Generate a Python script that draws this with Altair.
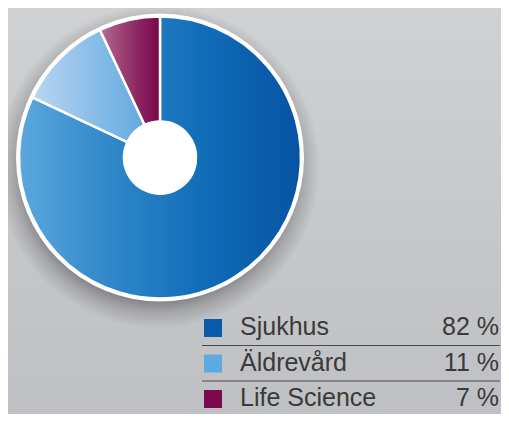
import altair as alt
import pandas as pd

categories = ["Sjukhus", "Äldrevård", "Life Science"]
shares = [82, 11, 7]
share_labels = ["82 %", "11 %", "7 %"]
swatch_colors = ["#0a5bab", "#5cabe0", "#7a0a4c"]
slice_gradients = [
    ["#5ba8de", "#2f86c8", "#106cb8", "#0753a3"],
    ["#b9d6f1", "#9cc6ec", "#7fb8e6", "#62a9de"],
    ["#b26d95", "#9e4577", "#8a2360", "#78064a"],
]

W, H = 493, 406
CX, CY = 152, 149.5
R_OUT, R_IN = 141, 36

df = pd.DataFrame({
    "category": categories,
    "share": shares,
    "label": share_labels,
    "order": list(range(len(categories))),
})
one = pd.DataFrame({"k": [0]})


def lin(colors, vertical=False):
    n = len(colors) - 1
    g = {"gradient": "linear", "x1": 0, "y1": 0,
         "x2": 0 if vertical else 1, "y2": 1 if vertical else 0,
         "stops": [{"offset": i / n, "color": c} for i, c in enumerate(colors)]}
    return g


bg = alt.Chart(one).mark_rect(color=lin(["#d0d1d3", "#c7c8ca", "#bfc0c3"], vertical=True)).encode(
    x=alt.value(0), x2=alt.value(W), y=alt.value(0), y2=alt.value(H)
)

shadow = alt.Chart(one).mark_arc(
    theta=0, theta2=6.2831853, radius=162,
    color={"gradient": "radial", "x1": 0.5, "y1": 0.5, "r1": 0, "x2": 0.5, "y2": 0.5, "r2": 0.5,
           "stops": [{"offset": 0.8, "color": "rgba(40,40,45,0.5)"},
                     {"offset": 0.9, "color": "rgba(40,40,45,0.2)"},
                     {"offset": 1.0, "color": "rgba(40,40,45,0)"}]},
).encode(x=alt.value(CX - 2), y=alt.value(CY + 9))

ring = alt.Chart(one).mark_arc(theta=0, theta2=6.2831853, radius=R_OUT + 3, color="white").encode(
    x=alt.value(CX), y=alt.value(CY)
)

base = alt.Chart(df).transform_window(
    cum="sum(share)", sort=[alt.SortField("order")]
).transform_calculate(start="datum.cum - datum.share")

theta_scale = alt.Scale(domain=[0, 100], range=[0, 6.2831853])
slices = []
for i, cat in enumerate(categories):
    slices.append(
        base.transform_filter(alt.datum.category == cat).mark_arc(
            radius=R_OUT, radius2=R_IN, color=lin(slice_gradients[i]),
            stroke="white", strokeWidth=2.5,
        ).encode(
            theta=alt.Theta("start:Q", scale=theta_scale),
            theta2="cum:Q",
            x=alt.value(CX), y=alt.value(CY),
        )
    )

hole = alt.Chart(one).mark_arc(theta=0, theta2=6.2831853, radius=R_IN + 1, color="white").encode(
    x=alt.value(CX), y=alt.value(CY)
)

yscale = alt.Scale(type="point", domain=categories, range=[320, 391], padding=0)
ycat = alt.Y("category:N", scale=yscale, axis=None)

squares = alt.Chart(df).mark_square(size=324, opacity=1).encode(
    x=alt.value(205), y=alt.Y("category:N", scale=yscale, axis=None),
    color=alt.Color("category:N", scale=alt.Scale(domain=categories, range=swatch_colors), legend=None),
)

names = alt.Chart(df).mark_text(
    align="left", baseline="middle", dy=-1, fontSize=25, font="Liberation Sans", color="#3a3a3a"
).encode(x=alt.value(232), y=ycat, text="category:N")

pcts = alt.Chart(df).mark_text(
    align="right", baseline="middle", dy=-1, fontSize=25, font="Liberation Sans", color="#3a3a3a"
).encode(x=alt.value(491), y=ycat, text="label:N")

rules = alt.Chart(df).transform_filter(alt.datum.order < 2).mark_rule(
    color="#4a4a4a", strokeWidth=1.2, yOffset=17.5
).encode(x=alt.value(194), x2=alt.value(492), y=ycat)

chart = alt.layer(bg, shadow, ring, *slices, hole, squares, names, pcts, rules).properties(
    width=W, height=H, padding=0, background="#c8c9cb", autosize="none",
).configure_view(stroke=None)

chart.save("out.html", embed_options={"renderer": "svg", "actions": False})
